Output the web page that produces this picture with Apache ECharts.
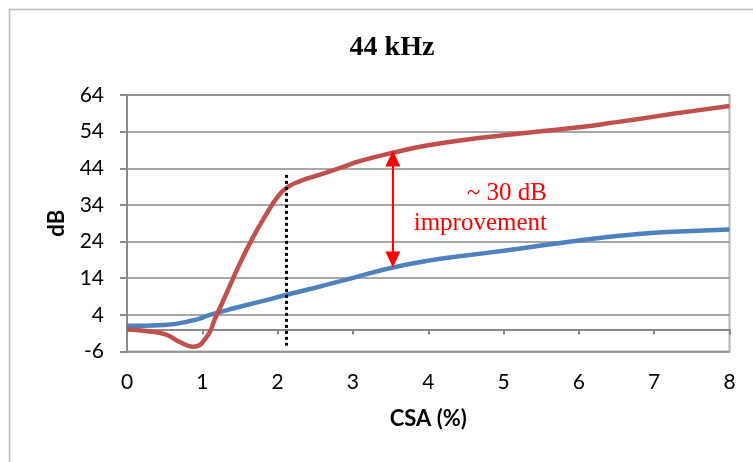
<!DOCTYPE html>
<html>
<head>
<meta charset="utf-8">
<script src="https://cdn.jsdelivr.net/npm/echarts@6/dist/echarts.min.js"></script>
<style>
html,body{margin:0;padding:0;background:#fff;}
#chart{width:753px;height:462px;}
</style>
</head>
<body>
<div id="chart"></div>
<script>
// ---- data ----
const csaRed = [0, 0.25, 0.52, 0.7, 0.88, 1.06, 1.17, 1.33, 1.5, 1.68, 1.86, 1.99, 2.12, 2.3, 2.52, 2.83, 3.1, 3.54, 3.98, 4.5, 5.0, 5.5, 6.0, 6.5, 7.0, 7.5, 8.0];
const dbRed  = [0, -0.4, -1.4, -3.4, -4.7, -1.95, 3.0, 10.3, 18.1, 25.4, 31.8, 35.9, 38.7, 40.5, 42.0, 44.1, 46.0, 48.3, 50.2, 51.8, 53.0, 54.1, 55.2, 56.6, 58.1, 59.6, 61.0];
const csaBlue = [0, 0.5, 0.9, 1.1, 1.42, 1.77, 2.12, 2.5, 3.0, 3.5, 4.0, 4.5, 5.0, 5.5, 6.0, 6.5, 7.0, 7.5, 8.0];
const dbBlue  = [1.0, 1.25, 2.6, 4.0, 5.8, 7.6, 9.5, 11.4, 14.1, 16.8, 18.8, 20.2, 21.5, 22.9, 24.3, 25.5, 26.4, 26.9, 27.3];
const dottedX = 2.12, dottedY = [42.2, -4.4];
const arrowX = 3.53, arrowY = [46.7, 19.1];
const yMin = -6, yMax = 64, yStep = 10;
const xMin = 0, xMax = 8, xStep = 1;
const titleText = '44 kHz';
const xName = 'CSA (%)', yName = 'dB';
const noteLines = ['~ 30 dB', 'improvement'];

const zip = (a, b) => a.map((v, i) => [v, b[i]]);

const chart = echarts.init(document.getElementById('chart'));
const labelFont = 'Lato, "Open Sans", sans-serif';
chart.setOption({
  animation: false,
  title: {
    text: titleText, left: 387, top: 29, textAlign: 'center',
    textStyle: {fontFamily: '"Liberation Serif", "Times New Roman", serif', fontWeight: 'bold', fontSize: 28, color: '#000'}
  },
  grid: {left: 127, right: 23.5, top: 95, bottom: 110.5, show: true, borderColor: '#b4b4b4', borderWidth: 2, containLabel: false},
  xAxis: [
    {type: 'value', min: xMin, max: xMax, interval: xStep, position: 'bottom',
     axisLine: {show: true, onZero: true, lineStyle: {color: '#8a8a8a', width: 2}},
     axisTick: {show: true, length: 5, lineStyle: {color: '#8a8a8a', width: 2}},
     axisLabel: {show: false}, splitLine: {show: false}},
    {type: 'value', min: xMin, max: xMax, interval: xStep, position: 'bottom',
     axisLine: {show: false, onZero: false}, axisTick: {show: false}, splitLine: {show: false},
     axisLabel: {show: true, margin: 20, fontFamily: labelFont, fontSize: 21, color: '#000'},
     name: xName, nameLocation: 'middle', nameGap: 56,
     nameTextStyle: {fontFamily: labelFont, fontWeight: 'bold', fontSize: 22, color: '#000'}}
  ],
  yAxis: {
    type: 'value', min: yMin, max: yMax, interval: yStep,
    axisLine: {show: true, lineStyle: {color: '#8a8a8a', width: 2}},
    axisTick: {show: true, length: 7, lineStyle: {color: '#8a8a8a', width: 2}},
    splitLine: {show: true, lineStyle: {color: '#8a8a8a', width: 1.5}},
    axisLabel: {margin: 23, fontFamily: labelFont, fontSize: 21, color: '#000'},
    name: yName, nameLocation: 'middle', nameGap: 59, nameRotate: 90,
    nameTextStyle: {fontFamily: labelFont, fontWeight: 'bold', fontSize: 22, color: '#000'}
  },
  series: [
    {type: 'line', xAxisIndex: 0, data: zip(csaBlue, dbBlue), smooth: 0.5, showSymbol: false,
     lineStyle: {color: '#4F81BD', width: 4.5}, z: 3},
    {type: 'line', xAxisIndex: 0, data: zip(csaRed, dbRed), smooth: 0.5, showSymbol: false,
     lineStyle: {color: '#C0504D', width: 4.5}, z: 4,
     markLine: {
       silent: true, animation: false, label: {show: false},
       data: [
         [{coord: [dottedX, dottedY[0]], symbol: 'none', lineStyle: {color: '#000', width: 3, type: [3, 3]}},
          {coord: [dottedX, dottedY[1]], symbol: 'none'}],
         [{coord: [arrowX, arrowY[0]], symbol: 'triangle', symbolSize: [15, 16], lineStyle: {color: '#ff0000', width: 2, type: 'solid'}, itemStyle: {color: '#ff0000'}},
          {coord: [arrowX, arrowY[1]], symbol: 'triangle', symbolSize: [15, 16]}]
       ]
     }}
  ],
  graphic: [
    {type: 'rect', shape: {x: 9.5, y: 9.5, width: 800, height: 500}, style: {fill: 'none', stroke: '#bdbdbd', lineWidth: 1.5}, z: -10, silent: true},
    {type: 'text', x: 547, y: 193, style: {text: noteLines[0], fill: '#ff0000', font: '25px "Liberation Serif", "Times New Roman", serif', textAlign: 'right', textVerticalAlign: 'middle'}},
    {type: 'text', x: 547, y: 223, style: {text: noteLines[1], fill: '#ff0000', font: '25px "Liberation Serif", "Times New Roman", serif', textAlign: 'right', textVerticalAlign: 'middle'}}
  ]
});
</script>
</body>
</html>
